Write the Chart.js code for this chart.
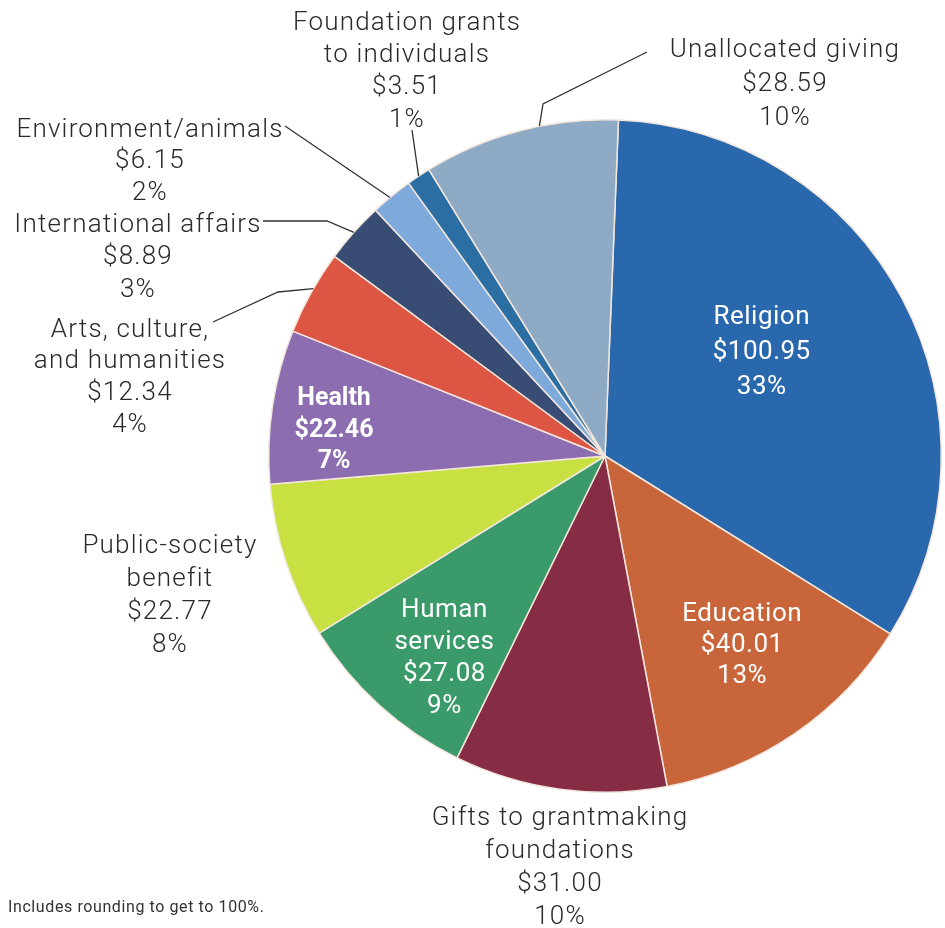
<!DOCTYPE html>
<html>
<head>
<meta charset="utf-8">
<script src="https://cdn.jsdelivr.net/npm/chart.js@4.4.1/dist/chart.umd.min.js"></script>
<style>
    html, body { margin: 0; padding: 0; background: #fff; }
    #wrap { width: 945px; height: 928px; }
</style>
</head>
<body>
<div id="wrap"><canvas id="pie" width="945" height="928"></canvas></div>
<script>
// Data (billions of dollars), clockwise from the top
const categories = ['Religion', 'Education', 'Gifts to grantmaking foundations', 'Human services',
    'Public-society benefit', 'Health', 'Arts, culture, and humanities', 'International affairs',
    'Environment/animals', 'Foundation grants to individuals', 'Unallocated giving'];
const amounts = [100.95, 40.01, 31.00, 27.08, 22.77, 22.46, 12.34, 8.89, 6.15, 3.51, 28.59];
const percents = [33, 13, 10, 9, 8, 7, 4, 3, 2, 1, 10];
const nameLines = [
    ['Religion'], ['Education'], ['Gifts to grantmaking', 'foundations'], ['Human', 'services'],
    ['Public-society', 'benefit'], ['Health'], ['Arts, culture,', 'and humanities'], ['International affairs'],
    ['Environment/animals'], ['Foundation grants', 'to individuals'], ['Unallocated giving']
];
const footnote = 'Includes rounding to get to 100%.';

const sliceColors = ['#2a68ae', '#c9653b', '#862c44', '#3a9a69', '#c9e043', '#8b6db0',
    '#dd5643', '#384c74', '#7eaadb', '#2a6ea3', '#8eaac4'];

// Label layout: inside labels sit at a fraction t of the slice angle and r of the radius;
// outside labels have a text position and an elbowed leader ending on the slice edge
const labelLayout = [
    { inside: true, t: 0.449, r: 0.562, step: 35 },
    { inside: true, t: 0.46, r: 0.69, step: 31 },
    { x: 560, y: 815, step: 33.3 },
    { inside: true, t: 0.39, r: 0.765, step: 32 },
    { x: 170, y: 543, step: 33.3 },
    { inside: true, t: 0.40, r: 0.81, step: 31.5, bold: true },
    { x: 130, y: 327, step: 31.7, leader: [[213, 322], [278, 292]], t: 0.55 },
    { x: 138, y: 222, step: 32.5, leader: [[263, 221], [327, 221]], t: 0.5 },
    { x: 150, y: 127, step: 31.5, leader: [[285, 126]], t: 0.45 },
    { x: 407, y: 20, step: 32.4, leader: [[412, 130]], t: 0.5 },
    { x: 785, y: 47, step: 34, leader: [[647, 52], [543, 104]], t: 0.6 }
];

const outsideFont = '300 26px "Liberation Sans Narrow", Roboto, sans-serif';
const insideFont = '26px "Liberation Sans Narrow", Roboto, sans-serif';
const insideBold = 'bold 25px "Liberation Sans Narrow", Roboto, sans-serif';

const labelPlugin = {
    id: 'sliceLabels',
    afterDraw(chart) {
        const ctx = chart.ctx;
        const arcs = chart.getDatasetMeta(0).data;
        ctx.save();
        ctx.textAlign = 'center';
        ctx.textBaseline = 'middle';
        arcs.forEach((arc, i) => {
            const lay = labelLayout[i];
            const lines = nameLines[i].concat(['$' + amounts[i].toFixed(2), percents[i] + '%']);
            if (lay.inside) {
                const a = arc.startAngle + lay.t * (arc.endAngle - arc.startAngle);
                const cx = arc.x + Math.cos(a) * arc.outerRadius * lay.r;
                const cy = arc.y + Math.sin(a) * arc.outerRadius * lay.r;
                const y0 = cy - (lines.length - 1) * lay.step / 2;
                ctx.fillStyle = '#ffffff';
                ctx.font = lay.bold ? insideBold : insideFont;
                ctx.letterSpacing = lay.bold ? '0px' : '0.5px';
                lines.forEach((s, k) => ctx.fillText(s, cx, y0 + 2 + k * lay.step));
            } else {
                ctx.fillStyle = '#2a2a2a';
                ctx.font = outsideFont;
                ctx.letterSpacing = '1.2px';
                lines.forEach((s, k) => ctx.fillText(s, lay.x, lay.y + 3 + k * lay.step));
                if (lay.leader) {
                    const a = arc.startAngle + lay.t * (arc.endAngle - arc.startAngle);
                    const ex = arc.x + Math.cos(a) * arc.outerRadius;
                    const ey = arc.y + Math.sin(a) * arc.outerRadius;
                    ctx.strokeStyle = '#333';
                    ctx.lineWidth = 1.3;
                    ctx.beginPath();
                    ctx.moveTo(lay.leader[0][0], lay.leader[0][1]);
                    lay.leader.slice(1).forEach(p => ctx.lineTo(p[0], p[1]));
                    ctx.lineTo(ex, ey);
                    ctx.stroke();
                }
            }
        });
        ctx.textAlign = 'left';
        ctx.fillStyle = '#333';
        ctx.font = '16px "Liberation Sans Narrow", Roboto, sans-serif';
        ctx.letterSpacing = '0.6px';
        ctx.fillText(footnote, 8, 908);
        ctx.restore();
    }
};

new Chart(document.getElementById('pie'), {
    type: 'pie',
    data: {
        labels: categories,
        datasets: [{
            data: amounts,
            backgroundColor: sliceColors,
            borderColor: '#f3e6dc',
            borderWidth: 1.5
        }]
    },
    options: {
        responsive: false,
        animation: false,
        rotation: 2.3,
        layout: { padding: { left: 267, right: 2, top: 119, bottom: 135 } },
        plugins: {
            legend: { display: false },
            tooltip: { enabled: false }
        }
    },
    plugins: [labelPlugin]
});
</script>
</body>
</html>
